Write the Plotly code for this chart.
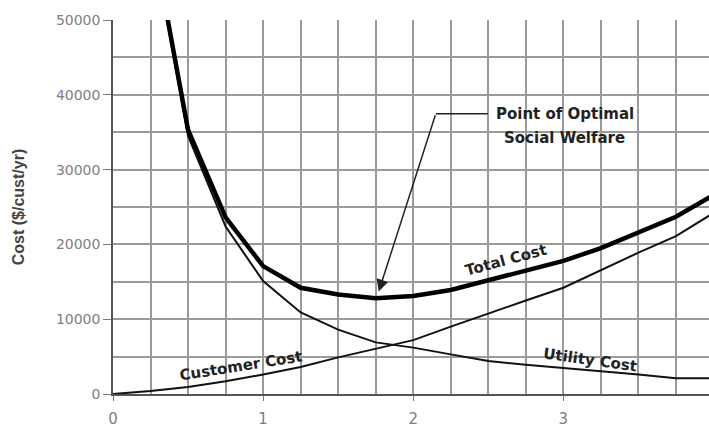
import plotly.graph_objects as go

# ---- data ----
x_vals = [0.25, 0.5, 0.75, 1.0, 1.25, 1.5, 1.75, 2.0, 2.25, 2.5, 2.75, 3.0, 3.25, 3.5, 3.75, 4.0]
total_cost = [62500, 35300, 23600, 17100, 14200, 13300, 12800, 13100, 13900, 15200, 16500, 17800, 19500, 21600, 23700, 26600]
utility_cost = [62000, 34500, 22400, 15100, 10900, 8600, 6900, 6200, 5300, 4400, 3900, 3500, 3000, 2600, 2100, 2100]
customer_x = [0.0, 0.25, 0.5, 0.75, 1.0, 1.25, 1.5, 1.75, 2.0, 2.25, 2.5, 2.75, 3.0, 3.25, 3.5, 3.75, 4.0]
customer_cost = [0, 400, 950, 1700, 2600, 3600, 4900, 6100, 7200, 9000, 10800, 12500, 14200, 16600, 18900, 21100, 24200]

x_ticks = [0, 1, 2, 3, 4]
y_ticks = [0, 10000, 20000, 30000, 40000, 50000]
y_tick_labels = ["0", "10000", "20000", "30000", "40000", "50000"]

BOLD = "DejaVu Sans"
GRID = "#9a9a9a"

fig = go.Figure()
fig.add_trace(go.Scatter(x=customer_x, y=customer_cost, mode="lines",
                         line=dict(color="#111111", width=2), name="Customer Cost"))
fig.add_trace(go.Scatter(x=x_vals, y=utility_cost, mode="lines",
                         line=dict(color="#111111", width=2), name="Utility Cost"))
fig.add_trace(go.Scatter(x=x_vals, y=total_cost, mode="lines",
                         line=dict(color="#000000", width=4.5), name="Total Cost"))

# optimum from the data
i_min = min(range(len(total_cost)), key=lambda i: total_cost[i])
opt_x, opt_y = x_vals[i_min], total_cost[i_min]

ann_font = dict(family=BOLD, size=15, color="#222222")
annotations = [
    dict(x=2.62, y=17950, text="<b>Total Cost</b>", textangle=-15, showarrow=False, font=ann_font),
    dict(x=0.85, y=3700, text="<b>Customer Cost</b>", textangle=-9, showarrow=False, font=ann_font),
    dict(x=3.18, y=4550, text="<b>Utility Cost</b>", textangle=8, showarrow=False, font=ann_font),
    dict(x=3.01, y=37480, text="<b>Point of Optimal</b>", showarrow=False, font=ann_font),
    dict(x=3.01, y=34270, text="<b>Social Welfare</b>", showarrow=False, font=ann_font),
    dict(x=opt_x + 0.02, y=opt_y + 900, ax=2.15, ay=37480, axref="x", ayref="y",
         xref="x", yref="y", text="", showarrow=True, arrowhead=2, arrowsize=1.6,
         arrowwidth=1.5, arrowcolor="#222222"),
]

fig.update_layout(
    width=709, height=429,
    margin=dict(l=113, r=0, t=20, b=35),
    paper_bgcolor="white", plot_bgcolor="white",
    showlegend=False,
    annotations=annotations,
    shapes=[dict(type="line", xref="x", yref="y", x0=2.15, y0=37480, x1=2.497, y1=37480,
                 line=dict(color="#222222", width=1.5))],
    font=dict(family="DejaVu Sans", size=15, color="#808080"),
)
fig.update_xaxes(
    range=[0, 3.97], tickvals=x_ticks, ticks="outside", ticklen=5, tickcolor="#777777",
    showgrid=True, gridcolor=GRID, gridwidth=1.5,
    minor=dict(dtick=0.25, tick0=0, showgrid=True, gridcolor=GRID, gridwidth=1.5),
    showline=True, linecolor="#555555", linewidth=1.5, zeroline=False,
    automargin=False, ticklabelstandoff=5,
    tickfont=dict(family="DejaVu Sans", size=15, color="#808080"),
)
fig.update_yaxes(
    range=[0, 50000], tickvals=y_ticks, ticktext=y_tick_labels,
    ticks="outside", ticklen=8, tickcolor="#777777",
    showgrid=True, gridcolor=GRID, gridwidth=1.5,
    minor=dict(dtick=5000, tick0=0, showgrid=True, gridcolor=GRID, gridwidth=1.5),
    showline=True, linecolor="#555555", linewidth=1.5, zeroline=False,
    automargin=False,
    tickfont=dict(family="DejaVu Sans", size=14, color="#808080"),
    title=dict(text="<b>Cost ($/cust/yr)</b>", standoff=27,
               font=dict(family="Liberation Sans", size=16, color="#444444")),
)

fig.write_html("out.html", config={"displayModeBar": False},
               post_script="document.body.style.margin='0';document.body.style.overflow='hidden';")
